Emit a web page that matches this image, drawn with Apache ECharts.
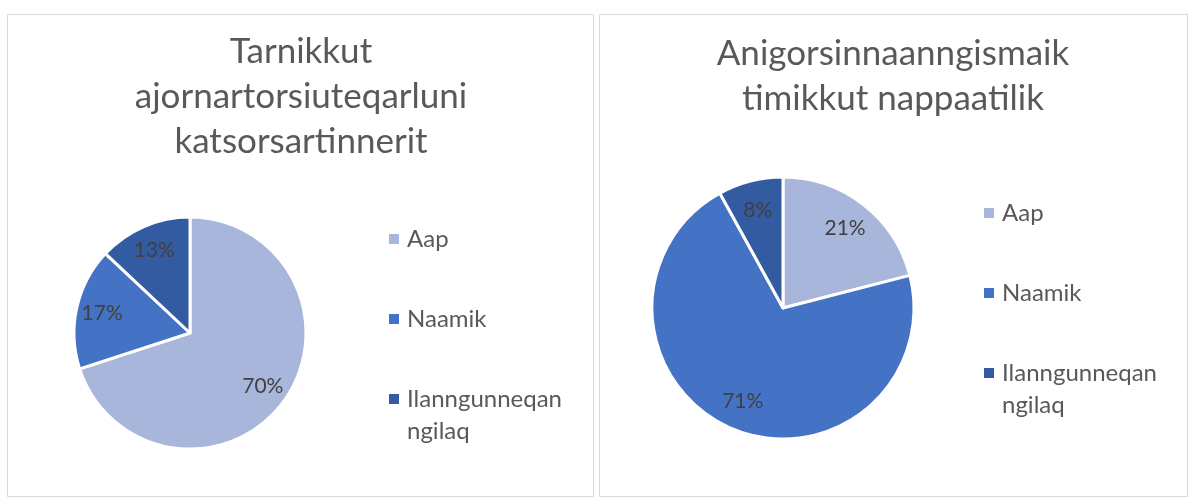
<!DOCTYPE html>
<html>
<head>
<meta charset="utf-8">
<title>Pie charts</title>
<script src="https://cdn.jsdelivr.net/npm/echarts@6/dist/echarts.min.js"></script>
<style>
  html, body { margin: 0; padding: 0; background: #fff; }
  #main { width: 1194px; height: 499px; }
</style>
</head>
<body>
<div id="main"></div>
<script>
  // 数据
  const categories = ['Aap', 'Naamik', 'Ilanngunneqanngilaq']
  const leftTitle = 'Tarnikkut\najornartorsiuteqarluni\nkatsorsartinnerit'
  const rightTitle = 'Anigorsinnaanngismaik\ntimikkut nappaatilik'
  const leftValues = [70, 17, 13]
  const rightValues = [21, 71, 8]
  const colors = ['#A9B6DC', '#4472C4', '#325BA1']

  const font = 'Lato, "Open Sans", sans-serif'
  const textColor = '#595959'

  const myChart = echarts.init(document.getElementById('main'))

  function toData (values) {
    return categories.map((name, i) => ({ name: name, value: values[i] }))
  }

  // 图例文字：每项三行，图标对齐中间一行
  function legendText (name) {
    if (name === 'Ilanngunneqanngilaq') return '\nIlanngunneqan\nngilaq'
    return '\n' + name + '\n'
  }

  function legend (left, top) {
    return {
      orient: 'vertical',
      left: left,
      top: top,
      padding: 0,
      itemWidth: 10,
      itemHeight: 10,
      itemGap: -16,
      icon: 'rect',
      itemStyle: { borderWidth: 0 },
      data: categories,
      formatter: legendText,
      textStyle: { color: textColor, fontSize: 24, fontFamily: font, lineHeight: 32, padding: [0, 0, 0, 3] }
    }
  }

  function piePair (center, r, values) {
    return [
      {
        type: 'pie',
        center: center,
        radius: r,
        startAngle: 90,
        animation: false,
        label: { show: false },
        labelLine: { show: false },
        itemStyle: { borderColor: '#fff', borderWidth: 3 },
        data: toData(values)
      },
      {
        // 标签层（透明），让标签靠外一些
        type: 'pie',
        center: center,
        radius: [r * 0.5, r],
        startAngle: 90,
        animation: false,
        silent: true,
        itemStyle: { color: 'rgba(0,0,0,0)' },
        label: {
          show: true,
          position: 'inside',
          formatter: '{c}%',
          color: '#404040',
          fontSize: 21,
          fontFamily: font
        },
        labelLine: { show: false },
        data: toData(values)
      }
    ]
  }

  const option = {
    color: colors,
    graphic: [
      { type: 'rect', shape: { x: 7.5, y: 14.5, width: 586, height: 482 }, style: { fill: '#fff', stroke: '#D9D9D9', lineWidth: 1 }, z: -10 },
      { type: 'rect', shape: { x: 599.5, y: 14.5, width: 588, height: 482 }, style: { fill: '#fff', stroke: '#D9D9D9', lineWidth: 1 }, z: -10 }
    ],
    title: [
      {
        text: leftTitle,
        left: 296,
        top: 24,
        textAlign: 'center',
        textStyle: { color: textColor, fontSize: 35, fontWeight: 'normal', fontFamily: font, lineHeight: 45 }
      },
      {
        text: rightTitle,
        left: 888,
        top: 26,
        textAlign: 'center',
        textStyle: { color: textColor, fontSize: 35, fontWeight: 'normal', fontFamily: font, lineHeight: 45 }
      }
    ],
    legend: [legend(389, 191), legend(984, 165)],
    series: [].concat(piePair([190, 333], 116, leftValues), piePair([783, 308], 131, rightValues))
  }

  myChart.setOption(option)
</script>
</body>
</html>
